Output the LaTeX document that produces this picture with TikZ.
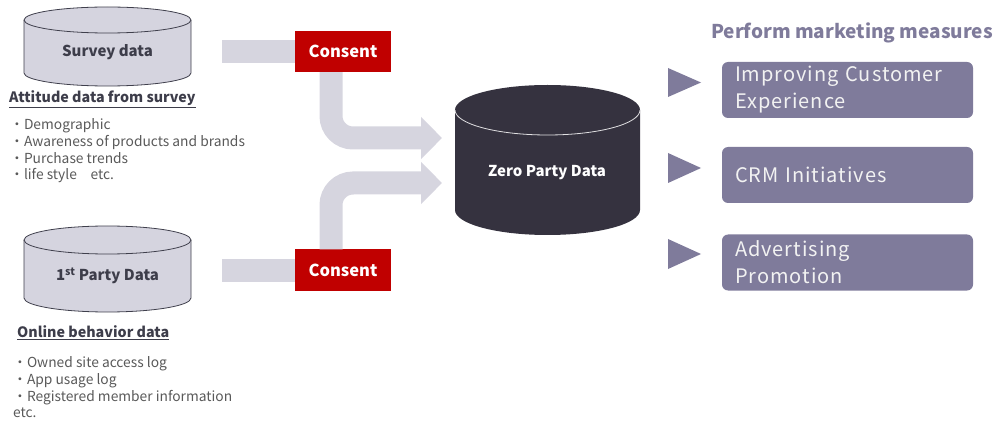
\documentclass[tikz,border=0pt]{standalone}
\usepackage{fontspec}
\setmainfont{Noto Sans CJK JP}
\usetikzlibrary{arrows.meta}
\definecolor{drumfill}{HTML}{D5D4DF}
\definecolor{drumline}{HTML}{3F3F4C}
\definecolor{bandgray}{HTML}{D6D5DF}
\definecolor{consentred}{HTML}{C00000}
\definecolor{zerofill}{HTML}{35323F}
\definecolor{measurefill}{HTML}{7F7B9B}
\definecolor{labelgray}{HTML}{3D3D4A}
\definecolor{listgray}{HTML}{595959}
\definecolor{boxtext}{HTML}{F2F2F2}
\tikzstyle{drum} = [fill=drumfill, draw=drumline, line width=0.8pt]
\tikzstyle{drumlabel} = [text=labelgray, font=\bfseries\fontsize{15}{18}\selectfont, inner sep=0pt]
\tikzstyle{zerolabel} = [text=white, font=\bfseries\fontsize{15}{18}\selectfont, inner sep=0pt]
\tikzstyle{listhead} = [text=labelgray, font=\bfseries\fontsize{14.3}{17}\selectfont, inner sep=0pt]
\tikzstyle{listtext} = [text=listgray, font=\fontsize{13.8}{16.7}\selectfont, align=left, inner sep=0pt]
\tikzstyle{consent} = [fill=consentred, text=white, font=\bfseries\fontsize{16.5}{19}\selectfont, minimum width=96pt, minimum height=41pt, inner sep=0pt]
\tikzstyle{band} = [draw=bandgray, line width=23pt]
\tikzstyle{measures} = [text=measurefill, font=\bfseries\fontsize{19}{22}\selectfont, inner sep=0pt]
\tikzstyle{measure} = [fill=measurefill, rounded corners=6pt, text=boxtext, font=\fontsize{20}{27}\selectfont\addfontfeatures{LetterSpace=5}, align=left, text width=225pt, inner xsep=13pt, minimum height=56pt]
\tikzstyle{pointer} = [fill=measurefill]

\begin{document}
\begin{tikzpicture}[x=1pt, y=1pt]
	\useasboundingbox (0,0) rectangle (996,-422);
	% survey drum
	\path[drum] (24,-20) -- (24,-73) arc[start angle=180, end angle=360, x radius=83.5, y radius=13] -- (191,-20) arc[start angle=0, end angle=180, x radius=83.5, y radius=13] -- cycle;
	\draw[drumline, line width=0.8pt] (24,-20) arc[start angle=180, end angle=360, x radius=83.5, y radius=13];
	\node[drumlabel] (survey) at (107.5,-52) {Survey data};
	\node[listhead, anchor=west] (attitude) at (9,-99) {\underline{Attitude data from survey}};
	\node[listtext, anchor=north west] (attlist) at (10,-118.5) {・Demographic\\・Awareness of products and brands\\・Purchase trends\\・life style　etc.};
	% first party drum
	\path[drum] (24,-240) -- (24,-298) arc[start angle=180, end angle=360, x radius=83.5, y radius=14] -- (191,-240) arc[start angle=0, end angle=180, x radius=83.5, y radius=14] -- cycle;
	\draw[drumline, line width=0.8pt] (24,-240) arc[start angle=180, end angle=360, x radius=83.5, y radius=14];
	\node[drumlabel] (first) at (107.5,-276) {1\textsuperscript{st} Party Data};
	\node[listhead, anchor=west] (online) at (17,-333) {\underline{Online behavior data}};
	\node[listtext, anchor=north west] (onlist) at (13,-356.5) {・Owned site access log\\・App usage log\\・Registered member information\\etc.};
	% zero party drum
	\fill[zerofill] (455,-110) -- (455,-210) arc[start angle=180, end angle=360, x radius=92.5, y radius=25] -- (640,-110) arc[start angle=0, end angle=180, x radius=92.5, y radius=25] -- cycle;
	\draw[white!85!zerofill, line width=0.8pt] (455,-110) arc[start angle=180, end angle=360, x radius=92.5, y radius=25];
	\node[zerolabel] (zero) at (547,-173) {Zero Party Data};
	% consent
	\node[consent] (c1) at (343,-51.5) {Consent};
	\node[consent] (c2) at (343,-270) {Consent};
	\coordinate (s1) at (222,-51.5);
	\coordinate (s2) at (222,-270);
	\coordinate (in1) at (442,-138);
	\coordinate (in2) at (442,-183);
	\draw[band] (s1) -- (c1.west);
	\draw[band] (s2) -- (c2.west);
	\draw[band, rounded corners=22pt, -{Triangle[width=41pt, length=21pt]}] ([xshift=-12pt]c1.south) |- (in1);
	\draw[band, rounded corners=22pt, -{Triangle[width=41pt, length=21pt]}] ([xshift=-12pt]c2.north) |- (in2);
	% marketing measures
	\node[measures] (perform) at (852,-33) {Perform marketing measures};
	\fill[pointer] (668,-68) -- (701,-82.5) -- (668,-97) -- cycle;
	\fill[pointer] (668,-153) -- (701,-168) -- (668,-183) -- cycle;
	\fill[pointer] (668,-239) -- (701,-254) -- (668,-269) -- cycle;
	\node[measure] (m1) at (847.5,-90) {Improving Customer\\Experience};
	\node[measure] (m2) at (847.5,-175) {CRM Initiatives};
	\node[measure] (m3) at (847.5,-262.5) {Advertising\\Promotion};
\end{tikzpicture}
\end{document}
